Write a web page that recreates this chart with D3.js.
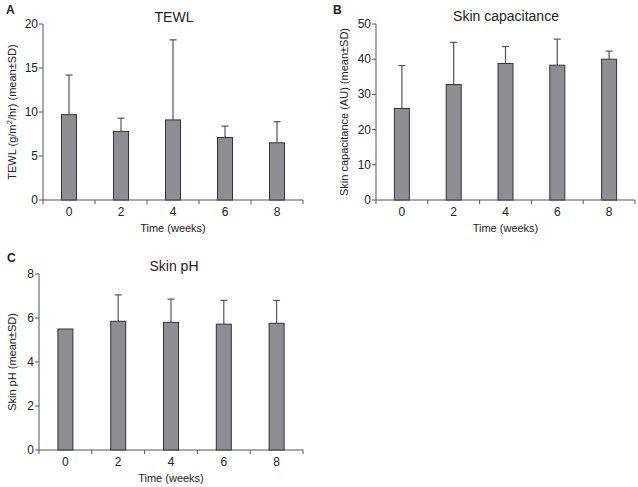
<!DOCTYPE html>
<html><head><meta charset="utf-8">
<script src="https://cdn.jsdelivr.net/npm/d3@7"></script>
<style>body{margin:0;background:#fff}svg{display:block}text{font-family:"Liberation Sans",Arial,sans-serif;fill:#222}</style>
</head><body><svg id="c" width="638" height="487"></svg>
<script>
const weeks = ["0","2","4","6","8"];
const tewlMean = [9.7, 7.8, 9.1, 7.1, 6.5];
const tewlUpper = [14.2, 9.3, 18.2, 8.4, 8.9];
const capMean = [26.0, 32.8, 38.8, 38.3, 40.0];
const capUpper = [38.2, 44.8, 43.6, 45.7, 42.3];
const phMean = [5.5, 5.85, 5.8, 5.72, 5.76];
const phUpper = [null, 7.05, 6.86, 6.8, 6.8];
const tewlTicks = [0, 5, 10, 15, 20];
const capTicks = [0, 10, 20, 30, 40, 50];
const phTicks = [0, 2, 4, 6, 8];

const svg = d3.select("#c");

function panel(o){
  const g = svg.append("g");
  const x = d3.scaleBand().domain(weeks).range([o.x0, o.x1]).padding(0);
  const y = d3.scaleLinear().domain([0, o.max]).range([o.y0, o.y1]);
  const bw = 15;
  g.append("line").attr("x1",o.x0).attr("x2",o.x1).attr("y1",o.y0).attr("y2",o.y0).attr("stroke","#555");
  const bounds = weeks.map(w=>x(w)).concat([o.x1]);
  g.selectAll(".xt").data(bounds).enter().append("line")
   .attr("x1",d=>d).attr("x2",d=>d).attr("y1",o.y0).attr("y2",o.y0+4).attr("stroke","#555");
  g.selectAll(".xl").data(weeks).enter().append("text")
   .attr("x",d=>x(d)+x.bandwidth()/2).attr("y",o.y0+16).attr("text-anchor","middle").attr("font-size",12).text(d=>d);
  g.append("line").attr("x1",o.x0).attr("x2",o.x0).attr("y1",o.y0).attr("y2",o.y1).attr("stroke","#555");
  g.selectAll(".yt").data(o.ticks).enter().append("line")
   .attr("x1",o.x0-4).attr("x2",o.x0).attr("y1",d=>y(d)).attr("y2",d=>y(d)).attr("stroke","#555");
  g.selectAll(".yl").data(o.ticks).enter().append("text")
   .attr("x",o.x0-5).attr("y",d=>y(d)+4).attr("text-anchor","end").attr("font-size",12).text(d=>d);
  weeks.forEach((w,i)=>{
    const up = o.upper[i];
    if(up==null) return;
    const cx = x(w)+x.bandwidth()/2;
    g.append("line").attr("x1",cx).attr("x2",cx).attr("y1",y(o.mean[i])).attr("y2",y(up)).attr("stroke","#555").attr("stroke-width",1.2);
    g.append("line").attr("x1",cx-3.5).attr("x2",cx+3.5).attr("y1",y(up)).attr("y2",y(up)).attr("stroke","#555").attr("stroke-width",1.2);
  });
  g.selectAll(".bar").data(weeks).enter().append("rect")
   .attr("x",d=>x(d)+x.bandwidth()/2-bw/2).attr("width",bw)
   .attr("y",(d,i)=>y(o.mean[i])).attr("height",(d,i)=>o.y0-y(o.mean[i]))
   .attr("fill","#8e8e92").attr("stroke","#333").attr("stroke-width",1);
  g.append("text").attr("x",o.tx).attr("y",o.ty).attr("text-anchor","middle").attr("font-size",14).text(o.title);
  g.append("text").attr("x",o.lx).attr("y",o.ly).attr("font-size",12).attr("font-weight","bold").text(o.letter);
  g.append("text").attr("x",(o.x0+o.x1)/2).attr("y",o.y0+32).attr("text-anchor","middle").attr("font-size",11).text("Time (weeks)");
  const yl = g.append("text").attr("transform",`translate(${o.ylx},${(o.y0+o.y1)/2}) rotate(-90)`).attr("text-anchor","middle").attr("font-size",11);
  o.ylab(yl);
}

panel({x0:43,x1:303,y0:200,y1:24,max:20,ticks:tewlTicks,mean:tewlMean,upper:tewlUpper,
  title:"TEWL",tx:174,ty:22,letter:"A",lx:6,ly:14,ylx:16,
  ylab:t=>{t.append("tspan").text("TEWL (g/m");t.append("tspan").attr("dy",-4).attr("font-size",8).text("2");t.append("tspan").attr("dy",4).text("/hr) (mean±SD)");}});
panel({x0:376,x1:635,y0:200,y1:24,max:50,ticks:capTicks,mean:capMean,upper:capUpper,
  title:"Skin capacitance",tx:506,ty:21,letter:"B",lx:333,ly:14,ylx:348,
  ylab:t=>t.text("Skin capacitance (AU) (mean±SD)")});
panel({x0:39,x1:303,y0:450,y1:274,max:8,ticks:phTicks,mean:phMean,upper:phUpper,
  title:"Skin pH",tx:174,ty:271,letter:"C",lx:7,ly:262,ylx:16,
  ylab:t=>t.text("Skin pH (mean±SD)")});
</script></body></html>
